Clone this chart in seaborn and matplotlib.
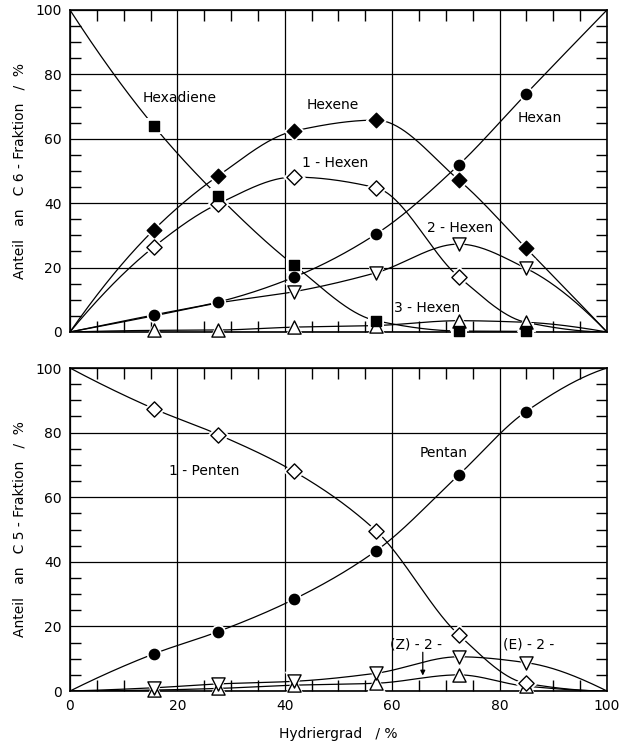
import numpy as np
import pandas as pd
import matplotlib
matplotlib.use("Agg")
import matplotlib.pyplot as plt
import seaborn as sns

# ---------------- data ----------------
x_pts = [15.6, 27.6, 41.7, 57.0, 72.4, 84.9]

# C6 fraction
hexadiene = [64.0, 42.2, 20.8, 3.5, 0.3, 0.2]
hexene = [31.7, 48.5, 62.4, 65.8, 47.2, 26.1]
hexan = [5.3, 9.3, 17.0, 30.4, 51.9, 73.9]
hexen1 = [26.4, 39.8, 48.1, 44.8, 17.1, 3.0]
hexen2 = [5.0, 9.0, 12.5, 18.4, 27.3, 19.8]
hexen3 = [0.5, 0.6, 1.5, 2.0, 3.5, 3.0]

# C5 fraction
penten1 = [87.4, 79.4, 68.0, 49.6, 17.4, 2.4]
pentan = [11.5, 18.4, 28.4, 43.4, 66.9, 86.5]
e2_penten = [1.0, 2.2, 3.0, 5.5, 10.6, 8.8]
z2_penten = [0.3, 0.8, 1.8, 2.4, 5.0, 1.5]

x_ticks = [0, 20, 40, 60, 80, 100]
y_ticks = [0, 20, 40, 60, 80, 100]


def pchip(xk, yk, xs):
    xk = np.asarray(xk, float)
    yk = np.asarray(yk, float)
    h = np.diff(xk)
    delta = np.diff(yk) / h
    n = len(xk)
    d = np.zeros(n)
    for k in range(1, n - 1):
        if delta[k - 1] * delta[k] <= 0:
            d[k] = 0.0
        else:
            w1 = 2 * h[k] + h[k - 1]
            w2 = h[k] + 2 * h[k - 1]
            d[k] = (w1 + w2) / (w1 / delta[k - 1] + w2 / delta[k])

    def end(h0, h1, d0, d1):
        v = ((2 * h0 + h1) * d0 - h0 * d1) / (h0 + h1)
        if np.sign(v) != np.sign(d0):
            v = 0.0
        elif np.sign(d0) != np.sign(d1) and abs(v) > abs(3 * d0):
            v = 3 * d0
        return v

    if n > 2:
        d[0] = end(h[0], h[1], delta[0], delta[1])
        d[-1] = end(h[-1], h[-2], delta[-1], delta[-2])
    else:
        d[:] = delta[0]
    idx = np.clip(np.searchsorted(xk, xs) - 1, 0, n - 2)
    t = (xs - xk[idx]) / h[idx]
    h00 = 2 * t**3 - 3 * t**2 + 1
    h10 = t**3 - 2 * t**2 + t
    h01 = -2 * t**3 + 3 * t**2
    h11 = t**3 - t**2
    return (h00 * yk[idx] + h10 * h[idx] * d[idx]
            + h01 * yk[idx + 1] + h11 * h[idx] * d[idx + 1])


sns.set_style("white")
plt.rcParams['font.family'] = ['DejaVu Sans']
plt.rcParams['axes.linewidth'] = 1.2
plt.rcParams['text.color'] = 'black'
plt.rcParams['axes.labelcolor'] = 'black'
plt.rcParams['xtick.color'] = 'black'
plt.rcParams['ytick.color'] = 'black'

fig = plt.figure(figsize=(6.26, 7.46), dpi=100)
ax1 = fig.add_axes([0.1118, 0.555, 0.8578, 0.4316])
ax2 = fig.add_axes([0.1118, 0.0737, 0.8578, 0.433])


def curve(ax, xs, ys, start=None, end=None):
    xk = list(xs)
    yk = list(ys)
    if start is not None:
        xk = [start[0]] + xk
        yk = [start[1]] + yk
    if end is not None:
        xk = xk + [end[0]]
        yk = yk + [end[1]]
    xd = np.linspace(xk[0], xk[-1], 400)
    yd = pchip(xk, yk, xd)
    sns.lineplot(x=xd, y=yd, ax=ax, color="black", lw=0.9, zorder=2,
                 sort=False, estimator=None)


def marks(ax, xs, ys, marker, filled, size, show=None):
    xs = np.asarray(xs)
    ys = np.asarray(ys)
    if show is not None:
        xs = xs[show]
        ys = ys[show]
    df = pd.DataFrame({"x": xs, "y": ys})
    # white halo to break the line near the marker
    sns.scatterplot(data=df, x="x", y="y", ax=ax, marker=marker, s=size * 2.2,
                    color="white", edgecolor="white", linewidth=0, zorder=3,
                    clip_on=False)
    sns.scatterplot(data=df, x="x", y="y", ax=ax, marker=marker, s=size,
                    color="black" if filled else "white", edgecolor="black",
                    linewidth=1.0, zorder=4, clip_on=False)


# ---------- top panel (C6) ----------
curve(ax1, x_pts, hexadiene, start=(0, 100))
curve(ax1, x_pts, hexene, start=(0, 0), end=(100, 0))
curve(ax1, x_pts, hexan, start=(0, 0), end=(100, 100))
curve(ax1, x_pts, hexen1, start=(0, 0), end=(100, 0))
curve(ax1, x_pts, hexen2, start=(0, 0), end=(100, 0))
curve(ax1, x_pts, hexen3, start=(0, 0), end=(100, 0))

marks(ax1, x_pts, hexen3, "^", False, 90)
marks(ax1, x_pts, hexen2, "v", False, 90, show=[2, 3, 4, 5])
marks(ax1, x_pts, hexen1, "D", False, 60, show=[0, 1, 2, 3, 4])
marks(ax1, x_pts, hexan, "o", True, 55)
marks(ax1, x_pts, hexene, "D", True, 55)
marks(ax1, x_pts, hexadiene, "s", True, 55)

fs = 10
ax1.text(20.5, 72.7, "Hexadiene", ha="center", va="center", fontsize=fs)
ax1.text(49.0, 70.5, "Hexene", ha="center", va="center", fontsize=fs)
ax1.text(49.3, 52.5, "1 - Hexen", ha="center", va="center", fontsize=fs)
ax1.text(87.5, 66.5, "Hexan", ha="center", va="center", fontsize=fs)
ax1.text(72.6, 32.3, "2 - Hexen", ha="center", va="center", fontsize=fs)
ax1.text(66.5, 7.5, "3 - Hexen", ha="center", va="center", fontsize=fs)

# ---------- bottom panel (C5) ----------
curve(ax2, x_pts, penten1, start=(0, 100), end=(100, 0))
curve(ax2, x_pts, pentan, start=(0, 0), end=(100, 100))
curve(ax2, x_pts, e2_penten, start=(0, 0), end=(100, 0))
curve(ax2, x_pts, z2_penten, start=(0, 0), end=(100, 0))

marks(ax2, x_pts, z2_penten, "^", False, 90)
marks(ax2, x_pts, e2_penten, "v", False, 90)
marks(ax2, x_pts, penten1, "D", False, 60)
marks(ax2, x_pts, pentan, "o", True, 55)

ax2.text(25.0, 68.0, "1 - Penten", ha="center", va="center", fontsize=fs)
ax2.text(69.5, 73.7, "Pentan", ha="center", va="center", fontsize=fs)
ax2.text(64.5, 14.3, "(Z) - 2 -", ha="center", va="center", fontsize=fs)
ax2.text(85.5, 14.3, "(E) - 2 -", ha="center", va="center", fontsize=fs)
ax2.annotate("", xy=(65.7, 4.8), xytext=(65.7, 12.0),
             arrowprops=dict(arrowstyle="-|>", color="black", lw=0.9,
                             mutation_scale=7, shrinkA=0, shrinkB=0))

for ax in (ax1, ax2):
    ax.set_xlim(0, 100)
    ax.set_ylim(0, 100)
    ax.set_xticks(x_ticks)
    ax.set_yticks(y_ticks)
    ax.set_xticks(np.arange(0, 101, 5), minor=True)
    ax.set_yticks(np.arange(0, 101, 5), minor=True)
    ax.grid(which="major", color="black", lw=0.9)
    ax.tick_params(which="major", length=0, labelsize=10, pad=6,
                   colors="black")
    ax.tick_params(which="minor", direction="in", length=8, width=1.0,
                   top=True, right=True, bottom=True, left=True,
                   colors="black")
    for sp in ax.spines.values():
        sp.set_visible(True)
        sp.set_color("black")
        sp.set_linewidth(1.2)
    ax.set_xlabel("")
    ax.set_ylabel("")

ax1.tick_params(labelbottom=False)
ax1.set_ylabel("Anteil   an   C 6 - Fraktion   /  %", fontsize=10, labelpad=6,
               color="black")
ax2.set_ylabel("Anteil   an   C 5 - Fraktion   /  %", fontsize=10, labelpad=6,
               color="black")
ax2.set_xlabel("Hydriergrad   / %", fontsize=10, labelpad=10, color="black")

fig.savefig("out.png", dpi=100, facecolor="white")
